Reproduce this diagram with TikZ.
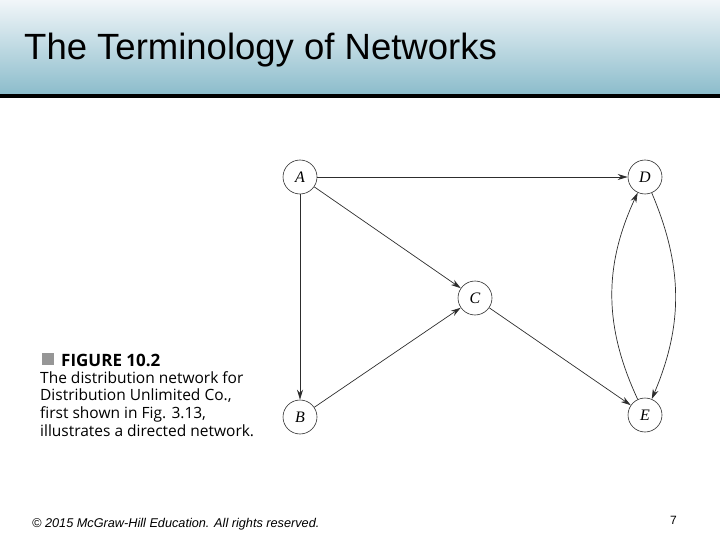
\documentclass[tikz,border=0pt]{standalone}
\usepackage{fontspec}
\setmainfont{Liberation Sans}
\newfontfamily\capfont{Open Sans}
\newfontfamily\labelfont{Liberation Serif}
\usetikzlibrary{arrows.meta,positioning}
\definecolor{headtop}{RGB}{241,246,249}
\definecolor{headbot}{RGB}{139,188,203}
\definecolor{edgegray}{RGB}{45,45,45}
\definecolor{boxgray}{RGB}{150,150,150}

\begin{document}
\begin{tikzpicture}[x=1pt, y=-1pt,
    vertex/.style={circle, draw=edgegray, fill=white, line width=0.6pt, minimum size=34pt, inner sep=0pt, font=\labelfont\itshape\fontsize{16}{16}\selectfont},
    arc/.style={-{Stealth[length=10pt,width=6pt]}, draw=edgegray, line width=0.7pt}]
    \useasboundingbox (0,0) rectangle (720,540);

    % Kopfzeile
    \shade[top color=headtop, bottom color=headbot] (0,0) rectangle (720,95);
    \fill[black] (0,94.5) rectangle (720,98.5);
    \node[anchor=base west, inner sep=0pt, font=\fontsize{36.5}{36.5}\selectfont] (title) at (24,60) {The Terminology of Networks};

    % Netzwerk
    \node[vertex] (A) at (300,177) {A};
    \node[vertex] (D) at (645,177) {D};
    \node[vertex] (C) at (475,298) {C};
    \node[vertex] (B) at (300,417) {B};
    \node[vertex] (E) at (645,415) {E};

    \draw[arc] (A) -- (D);
    \draw[arc] (A) -- (C);
    \draw[arc] (A) -- (B);
    \draw[arc] (B) -- (C);
    \draw[arc] (C) -- (E);
    \draw[arc] (D) to[bend left=23] (E);
    \draw[arc] (E) to[bend left=25] (D);

    % Bildunterschrift
    \fill[boxgray] (42,353) rectangle (54,365);
    \node[anchor=base west, inner sep=0pt, font=\capfont\bfseries\fontsize{17}{17}\selectfont] (fig) at (61,366) {FIGURE 10.2};
    \node[anchor=north west, inner sep=0pt, align=left, font=\capfont\fontsize{15.5}{17.8}\selectfont] (caption) at (40,371)
      {The distribution network for\\Distribution Unlimited Co.,\\first shown in Fig. 3.13,\\illustrates a directed network.};

    % Fusszeile
    \node[anchor=base west, inner sep=0pt, font=\itshape\fontsize{12.7}{12.7}\selectfont] (copy) at (32,527) {© 2015 McGraw-Hill Education. All rights reserved.};
    \node[anchor=base west, inner sep=0pt, font=\fontsize{12}{12}\selectfont] (page) at (670,524) {7};
\end{tikzpicture}
\end{document}
